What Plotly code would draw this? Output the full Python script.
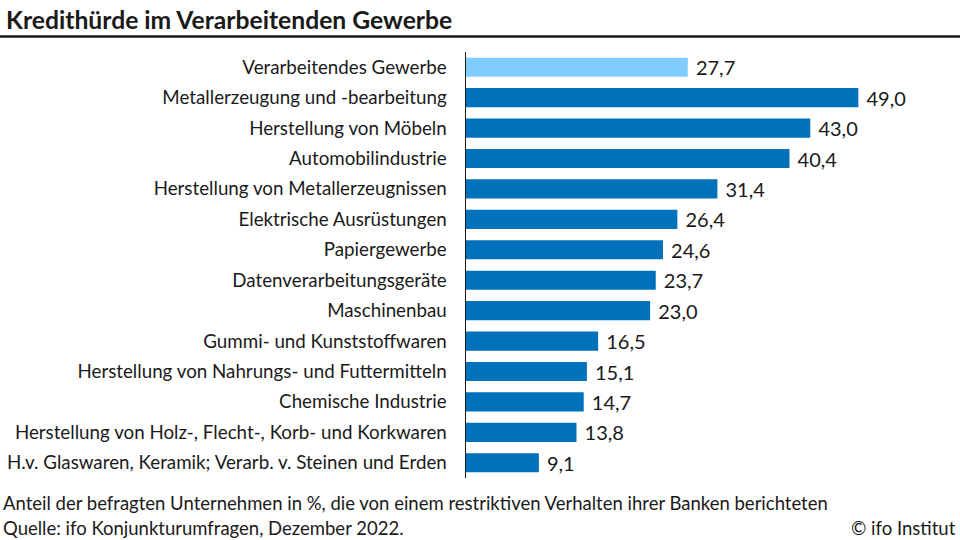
import plotly.graph_objects as go

categories = [
    "Verarbeitendes Gewerbe",
    "Metallerzeugung und -bearbeitung",
    "Herstellung von Möbeln",
    "Automobilindustrie",
    "Herstellung von Metallerzeugnissen",
    "Elektrische Ausrüstungen",
    "Papiergewerbe",
    "Datenverarbeitungsgeräte",
    "Maschinenbau",
    "Gummi- und Kunststoffwaren",
    "Herstellung von Nahrungs- und Futtermitteln",
    "Chemische Industrie",
    "Herstellung von Holz-, Flecht-, Korb- und Korkwaren",
    "H.v. Glaswaren, Keramik; Verarb. v. Steinen und Erden",
]
values = [27.7, 49.0, 43.0, 40.4, 31.4, 26.4, 24.6, 23.7, 23.0, 16.5, 15.1, 14.7, 13.8, 9.1]
labels = ["\u00a0" + f"{v:.1f}".replace(".", ",") for v in values]
colors = ["#80CCFF"] + ["#0072BC"] * (len(values) - 1)

FONT = "Lato"
W, H = 960, 540
L, R, T, B = 466, 0, 52, 62
PW, PH = W - L - R, H - T - B


def px_x(x):
    return (x - L) / PW


def px_y(y):
    return (H - B - y) / PH


fig = go.Figure(
    go.Bar(
        x=values,
        y=categories,
        orientation="h",
        marker=dict(color=colors, line=dict(width=0)),
        text=labels,
        textposition="outside",
        constraintext="none",
        textfont=dict(family=FONT, size=20, color="#1a1a1a"),
        cliponaxis=False,
        width=0.63,
        hoverinfo="skip",
    )
)

fig.update_layout(
    width=W,
    height=H,
    margin=dict(l=L, r=R, t=T, b=B),
    paper_bgcolor="white",
    plot_bgcolor="white",
    showlegend=False,
    font=dict(family=FONT, color="#1a1a1a"),
    xaxis=dict(range=[0, 61.7], visible=False, fixedrange=True),
    yaxis=dict(
        autorange="reversed",
        showline=True,
        linecolor="#1a1a1a",
        linewidth=1.5,
        ticks="",
        showgrid=False,
        tickfont=dict(family=FONT, size=18.75, color="#1a1a1a"),
        ticklabelstandoff=14,
        fixedrange=True,
    ),
    shapes=[
        dict(type="line", xref="paper", yref="paper", x0=px_x(0), x1=px_x(W),
             y0=px_y(36.5), y1=px_y(36.5),
             line=dict(color="#1a1a1a", width=2.5)),
    ],
    annotations=[
        dict(text="<b>Kredithürde im Verarbeitenden Gewerbe</b>", xref="paper", yref="paper",
             x=px_x(4), y=px_y(19), xanchor="left", yanchor="middle", showarrow=False,
             font=dict(family=FONT, size=24.7, color="#1a1a1a")),
        dict(text="Anteil der befragten Unternehmen in %, die von einem restriktiven Verhalten ihrer Banken berichteten",
             xref="paper", yref="paper", x=px_x(1), y=px_y(503),
             xanchor="left", yanchor="middle", showarrow=False,
             font=dict(family=FONT, size=18.5, color="#1a1a1a")),
        dict(text="Quelle: ifo Konjunkturumfragen, Dezember 2022.",
             xref="paper", yref="paper", x=px_x(1), y=px_y(528),
             xanchor="left", yanchor="middle", showarrow=False,
             font=dict(family=FONT, size=18.5, color="#1a1a1a")),
        dict(text="© ifo Institut",
             xref="paper", yref="paper", x=px_x(958), y=px_y(528),
             xanchor="right", yanchor="middle", showarrow=False,
             font=dict(family=FONT, size=18.5, color="#1a1a1a")),
    ],
)

fig.write_html(
    "out.html",
    config={"displayModeBar": False, "staticPlot": True},
    post_script="document.body.style.margin='0';document.body.style.padding='0';",
)
